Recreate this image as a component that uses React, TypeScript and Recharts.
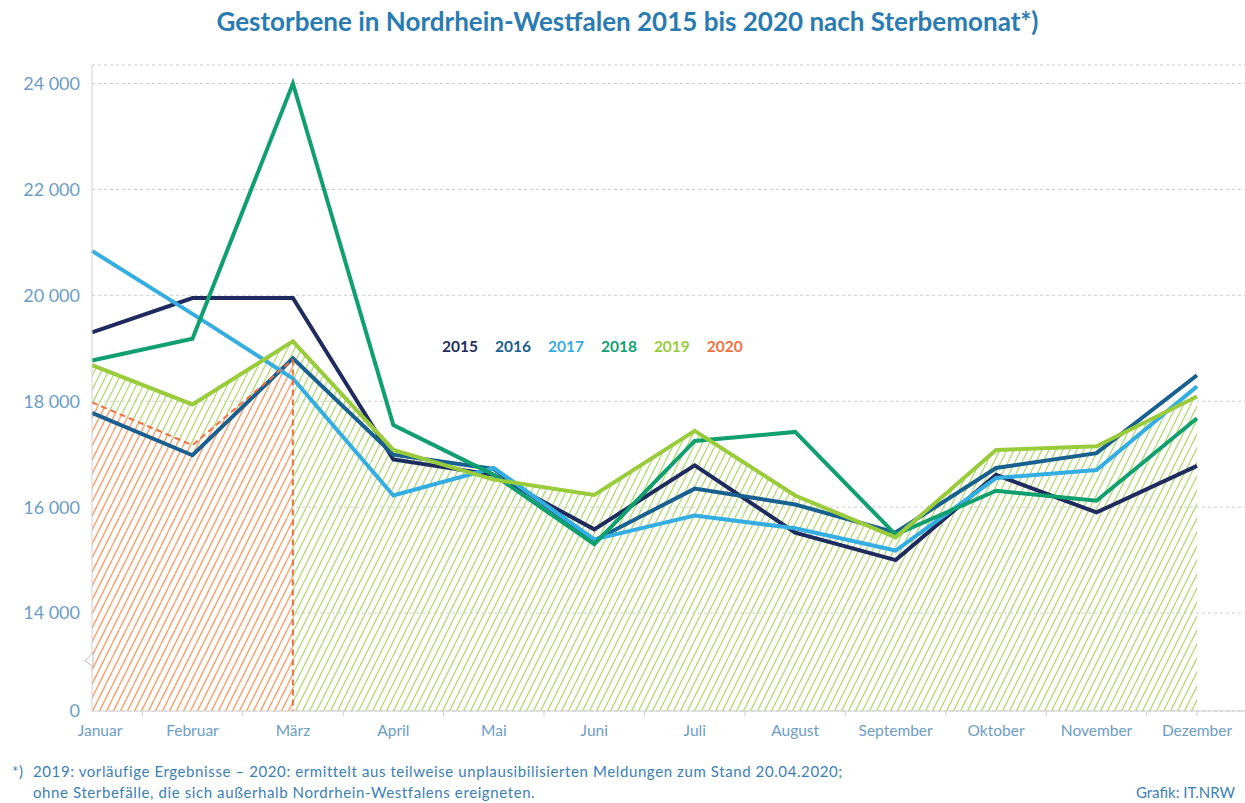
import React from "react";
import {
  ComposedChart,
  Line,
  Area,
  XAxis,
  YAxis,
  CartesianGrid,
  Legend,
  ReferenceLine,
  ReferenceDot,
} from "recharts";

const months = [
  "Januar", "Februar", "März", "April", "Mai", "Juni",
  "Juli", "August", "September", "Oktober", "November", "Dezember",
];

const v2015 = [19300, 19950, 19950, 16900, 16610, 15580, 16790, 15520, 15000, 16610, 15900, 16780];
const v2016 = [17780, 16980, 18810, 16990, 16720, 15370, 16350, 16050, 15520, 16740, 17020, 18490];
const v2017 = [20840, 19650, 18430, 16220, 16740, 15390, 15840, 15600, 15180, 16550, 16700, 18280];
const v2018 = [18770, 19180, 24000, 17550, 16610, 15300, 17250, 17420, 15480, 16310, 16120, 17680];
const v2019 = [18680, 17940, 19130, 17080, 16520, 16230, 17440, 16220, 15430, 17080, 17150, 18090];
const v2020 = [17980, 17170, 18790];

// broken axis: the "0" tick sits at the bottom of the visible range
const AXIS_ZERO = 12150;
const yTicks = [AXIS_ZERO, 14000, 16000, 18000, 20000, 22000, 24000];

const colors: Record<string, string> = {
  "2015": "#1f2b5e",
  "2016": "#18608f",
  "2017": "#34ade2",
  "2018": "#10a06f",
  "2019": "#9acb3a",
  "2020": "#f0703e",
};

const data = months.map((m, i) => ({
  month: m,
  y2015: v2015[i],
  y2016: v2016[i],
  y2017: v2017[i],
  y2018: v2018[i],
  y2019: v2019[i],
  y2020: i < v2020.length ? v2020[i] : null,
}));

const W = 1245;
const H = 803;
const PLOT_LEFT = 92;
const PAD_RIGHT = 48;
const STEP = (W - PLOT_LEFT - PAD_RIGHT) / (months.length - 1);

const labelColor = "#6b9dc7";
const textBlue = "#3a80b8";

const fmt = (v: number) =>
  v === AXIS_ZERO ? "0" : `${Math.floor(v / 1000)} ${String(v % 1000).padStart(3, "0")}`;

const XTick = (props: any) => {
  const { x, y, payload, index } = props;
  return (
    <g>
      {index < months.length - 1 && (
        <line x1={x + STEP / 2} x2={x + STEP / 2} y1={y} y2={y + 5} stroke="#cfcfcf" />
      )}
      {index === months.length - 1 && (
        <line x1={x} x2={x} y1={y} y2={y + 5} stroke="#cfcfcf" />
      )}
      <text
        x={x + (index === 0 ? 8 : 0)}
        y={y + 25}
        textAnchor="middle"
        fill={labelColor}
        fontSize={15.5}
        fontFamily="Lato"
      >
        {payload.value}
      </text>
    </g>
  );
};

const BreakMark = (props: any) => {
  const { cx, cy } = props;
  return (
    <polygon
      points={`${cx + 1},${cy - 8} ${cx - 7},${cy} ${cx + 1},${cy + 6}`}
      fill="#ffffff"
      stroke="#bdbdbd"
      strokeWidth={1}
    />
  );
};

const LegendContent = (props: any) => {
  const items = (props.payload || [])
    .filter((p: any) => colors[p.value])
    .sort((a: any, b: any) => Number(a.value) - Number(b.value));
  return (
    <div style={{ display: "flex", gap: 17, fontFamily: "Lato", fontWeight: 700, fontSize: 15.5 }}>
      {items.map((p: any) => (
        <span key={p.value} style={{ color: colors[p.value] }}>
          {p.value}
        </span>
      ))}
    </div>
  );
};

// "/" hatch: cell 7 wide, 14 high, one steep diagonal per cell
const Hatch = ({ id, color, bg }: { id: string; color: string; bg?: string }) => (
  <pattern id={id} patternUnits="userSpaceOnUse" width={7} height={14}>
    {bg && <rect x={0} y={0} width={7} height={14} fill={bg} />}
    <line x1={-7} y1={14} x2={0} y2={0} stroke={color} strokeWidth={1.5} />
    <line x1={0} y1={14} x2={7} y2={0} stroke={color} strokeWidth={1.5} />
    <line x1={7} y1={14} x2={14} y2={0} stroke={color} strokeWidth={1.5} />
  </pattern>
);

export default function App() {
  return (
    <div
      style={{
        position: "absolute",
        left: 0,
        top: 0,
        width: W,
        height: H,
        background: "#fff",
        fontFamily: "Lato",
      }}
    >
      <div
        style={{
          position: "absolute",
          top: 5,
          left: 0,
          width: W,
          textAlign: "center",
          color: "#2a7bb2",
          fontWeight: 700,
          fontSize: 26,
          paddingLeft: 10,
          boxSizing: "border-box",
        }}
      >
        Gestorbene in Nordrhein-Westfalen 2015 bis 2020 nach Sterbemonat*)
      </div>

      <ComposedChart
        width={W}
        height={H}
        data={data}
        margin={{ top: 65, right: 0, bottom: 62, left: 0 }}
      >
        <defs>
          {Hatch({ id: "hatchGreen", color: "#bcdc84" })}
          {Hatch({ id: "hatchOrange", color: "#f6a575", bg: "#ffffff" })}
        </defs>
        <CartesianGrid
          vertical={false}
          stroke="#cccccc"
          strokeDasharray="3 3"
        />
        <XAxis
          dataKey="month"
          interval={0}
          padding={{ left: 0, right: PAD_RIGHT }}
          axisLine={{ stroke: "#cfcfcf" }}
          tickLine={false}
          tickSize={0}
          tickMargin={0}
          tick={<XTick />}
          height={30}
        />
        <YAxis
          type="number"
          domain={[AXIS_ZERO, 24350]}
          ticks={yTicks}
          tickFormatter={fmt}
          width={PLOT_LEFT}
          axisLine={{ stroke: "#d2d2d2" }}
          tickLine={false}
          tickMargin={6}
          tick={{ fill: labelColor, fontSize: 18, fontFamily: "Lato" }}
          allowDataOverflow
        />

        <Area
          dataKey="y2019"
          name="hatch2019"
          fill="url(#hatchGreen)"
          fillOpacity={1}
          stroke="none"
          legendType="none"
          isAnimationActive={false}
        />
        <Area
          dataKey="y2020"
          name="hatch2020"
          fill="url(#hatchOrange)"
          fillOpacity={1}
          stroke="none"
          legendType="none"
          isAnimationActive={false}
        />

        <Line dataKey="y2015" name="2015" stroke={colors["2015"]} strokeWidth={4} dot={false} isAnimationActive={false} />
        <Line dataKey="y2016" name="2016" stroke={colors["2016"]} strokeWidth={4} dot={false} isAnimationActive={false} />
        <Line dataKey="y2017" name="2017" stroke={colors["2017"]} strokeWidth={4} dot={false} isAnimationActive={false} />
        <Line dataKey="y2018" name="2018" stroke={colors["2018"]} strokeWidth={4} dot={false} isAnimationActive={false} />
        <Line dataKey="y2019" name="2019" stroke={colors["2019"]} strokeWidth={4} dot={false} isAnimationActive={false} />
        <Line
          dataKey="y2020"
          name="2020"
          stroke={colors["2020"]}
          strokeWidth={2}
          strokeDasharray="6 4"
          dot={false}
          isAnimationActive={false}
        />

        <ReferenceLine
          segment={[
            { x: months[v2020.length - 1], y: v2020[v2020.length - 1] },
            { x: months[v2020.length - 1], y: AXIS_ZERO },
          ]}
          stroke={colors["2020"]}
          strokeWidth={2}
          strokeDasharray="6 4"
        />
        <ReferenceDot
          x={months[0]}
          y={13100}
          r={6}
          shape={<BreakMark />}
        />

        <Legend
          verticalAlign="middle"
          align="center"
          content={<LegendContent />}
          wrapperStyle={{ left: 442, top: 337, width: "auto" }}
        />
      </ComposedChart>

      <div
        style={{
          position: "absolute",
          left: 12,
          top: 761,
          color: textBlue,
          fontSize: 15,
          letterSpacing: 0.6,
          lineHeight: "21px",
        }}
      >
        <div>
          <span style={{ display: "inline-block", width: 21 }}>*)</span>
          2019: vorläufige Ergebnisse – 2020: ermittelt aus teilweise unplausibilisierten Meldungen zum Stand 20.04.2020;
        </div>
        <div style={{ paddingLeft: 21 }}>
          ohne Sterbefälle, die sich außerhalb Nordrhein-Westfalens ereigneten.
        </div>
      </div>
      <div
        style={{
          position: "absolute",
          right: 10,
          top: 782,
          color: textBlue,
          fontSize: 15,
          lineHeight: "21px",
        }}
      >
        Grafik: IT.NRW
      </div>
    </div>
  );
}
